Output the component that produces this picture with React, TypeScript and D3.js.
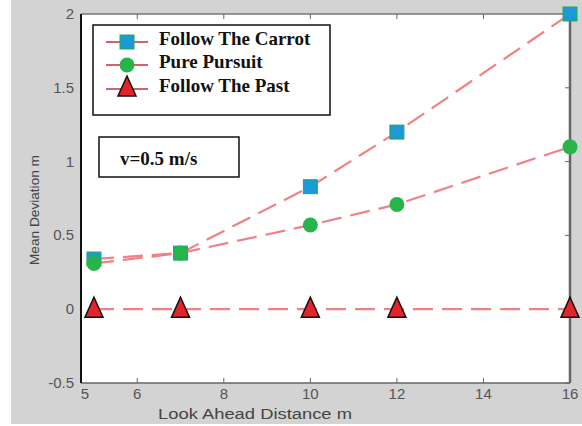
import React, { useEffect, useRef } from 'react'
import * as d3 from 'd3'

// look ahead distance (m)
const distances = [5, 7, 10, 12, 16]
const carrot = [0.34, 0.38, 0.83, 1.2, 2.0]
const purePursuit = [0.31, 0.38, 0.57, 0.71, 1.1]
const followPast = [0, 0, 0, 0, 0]
const xTicks = [6, 8, 10, 12, 14, 16]
const yTicks = [-0.5, 0, 0.5, 1, 1.5, 2]
const legendNames = ['Follow The Carrot', 'Pure Pursuit', 'Follow The Past']

const W = 582
const H = 426

const App = () => {
  const ref = useRef<SVGSVGElement>(null)

  useEffect(() => {
    const svg = d3.select(ref.current)
    svg.selectAll('*').remove()

    const left = 81
    const right = 570
    const top = 14
    const bottom = 383

    // page background
    svg.append('rect').attr('width', W).attr('height', H).attr('fill', '#fff')
    svg.append('rect').attr('x', 11).attr('y', 0).attr('width', W - 11).attr('height', 424).attr('fill', '#d3d3d3')
    svg.append('rect').attr('x', left).attr('y', top).attr('width', right - left).attr('height', bottom - top).attr('fill', '#fff')

    const x = d3.scaleLinear().domain([4.7, 16]).range([left, right])
    const y = d3.scaleLinear().domain([-0.5, 2]).range([bottom, top])

    // frame
    svg.append('line').attr('x1', left).attr('x2', right).attr('y1', top).attr('y2', top).attr('stroke', '#777').attr('stroke-width', 1.5)
    svg.append('line').attr('x1', left).attr('x2', right).attr('y1', bottom).attr('y2', bottom).attr('stroke', '#666').attr('stroke-width', 1.5)
    svg.append('line').attr('x1', right).attr('x2', right).attr('y1', top).attr('y2', bottom).attr('stroke', '#666').attr('stroke-width', 2.5)
    svg.append('line').attr('x1', left).attr('x2', left).attr('y1', top).attr('y2', bottom).attr('stroke', '#111').attr('stroke-width', 2)

    // ticks
    xTicks.forEach((t) => {
      svg.append('line').attr('x1', x(t)).attr('x2', x(t)).attr('y1', bottom).attr('y2', bottom - 5).attr('stroke', '#666')
      svg.append('line').attr('x1', x(t)).attr('x2', x(t)).attr('y1', top).attr('y2', top + 5).attr('stroke', '#666')
    })
    yTicks.forEach((t) => {
      svg.append('line').attr('x1', right).attr('x2', right - 5).attr('y1', y(t)).attr('y2', y(t)).attr('stroke', '#666')
    })

    const tickFont = 'Liberation Sans, Arial, sans-serif'
    svg.append('g').selectAll('text').data(xTicks).join('text')
      .attr('x', (d) => x(d)).attr('y', bottom + 16).attr('text-anchor', 'middle')
      .attr('font-family', tickFont).attr('font-size', 15).attr('fill', '#555').text((d) => d)
    svg.append('text').attr('x', x(4.7) + 4).attr('y', bottom + 16).attr('text-anchor', 'middle')
      .attr('font-family', tickFont).attr('font-size', 15).attr('fill', '#555').text('5')
    svg.append('g').selectAll('text').data(yTicks).join('text')
      .attr('x', left - 7).attr('y', (d) => y(d) + 5).attr('text-anchor', 'end')
      .attr('font-family', tickFont).attr('font-size', 15).attr('fill', '#555').text((d) => d)

    svg.append('text').attr('x', 158).attr('y', 419)
      .attr('textLength', 194).attr('lengthAdjust', 'spacingAndGlyphs')
      .attr('font-family', tickFont).attr('font-size', 14).attr('fill', '#444').text('Look Ahead Distance m')
    svg.append('text').attr('transform', 'translate(39,265) rotate(-90)')
      .attr('textLength', 110).attr('lengthAdjust', 'spacingAndGlyphs')
      .attr('font-family', tickFont).attr('font-size', 13).attr('fill', '#444').text('Mean Deviation m')

    // dashed lines
    const line = d3.line<number>().x((_, i) => x(distances[i])).y((d) => y(d))
    ;[carrot, purePursuit, followPast].forEach((s) => {
      svg.append('path').attr('d', line(s)).attr('fill', 'none').attr('stroke', '#ef8287')
        .attr('stroke-width', 2.2).attr('stroke-dasharray', '20,9')
    })

    const square = (g: any, cx: number, cy: number) =>
      g.append('rect').attr('x', cx - 7).attr('y', cy - 7).attr('width', 14).attr('height', 14)
        .attr('fill', '#1b9ad8').attr('stroke', '#2aa84a').attr('stroke-width', 1)
    const circle = (g: any, cx: number, cy: number) =>
      g.append('circle').attr('cx', cx).attr('cy', cy).attr('r', 7.5).attr('fill', '#27b44a')
    const tri = (g: any, cx: number, cy: number) =>
      g.append('path').attr('d', `M${cx},${cy - 12}L${cx + 9},${cy + 8}L${cx - 9},${cy + 8}Z`)
        .attr('fill', '#e3242b').attr('stroke', '#111').attr('stroke-width', 1.5)

    carrot.forEach((v, i) => square(svg, x(distances[i]), y(v)))
    purePursuit.forEach((v, i) => circle(svg, x(distances[i]), y(v)))
    followPast.forEach((v, i) => tri(svg, x(distances[i]), y(v)))

    // legend
    const serif = 'Liberation Serif, Times New Roman, serif'
    const lg = svg.append('g')
    lg.append('rect').attr('x', 93).attr('y', 25).attr('width', 237).attr('height', 90)
      .attr('fill', '#fff').attr('stroke', '#111').attr('stroke-width', 1.5)
    const makers = [square, circle, tri]
    const rowY = [42, 65, 89]
    legendNames.forEach((n, i) => {
      const cy = rowY[i]
      lg.append('line').attr('x1', 106).attr('x2', 148).attr('y1', cy).attr('y2', cy).attr('stroke', '#c0303a').attr('stroke-width', 1.5)
      makers[i](lg, 127, i === 2 ? cy - 1 : cy)
      lg.append('text').attr('x', 159).attr('y', cy + 3).attr('font-family', serif)
        .attr('font-weight', 'bold').attr('font-size', 19).attr('fill', '#111').text(n)
    })

    svg.append('rect').attr('x', 99).attr('y', 137).attr('width', 140).attr('height', 40)
      .attr('fill', '#fff').attr('stroke', '#111').attr('stroke-width', 1.5)
    svg.append('text').attr('x', 120).attr('y', 165).attr('font-family', serif)
      .attr('font-weight', 'bold').attr('font-size', 19).attr('fill', '#111').text('v=0.5 m/s')
  }, [])

  return (
    <svg ref={ref} width={W} height={H} style={{ position: 'absolute', left: 0, top: 0 }} />
  )
}

export default App
